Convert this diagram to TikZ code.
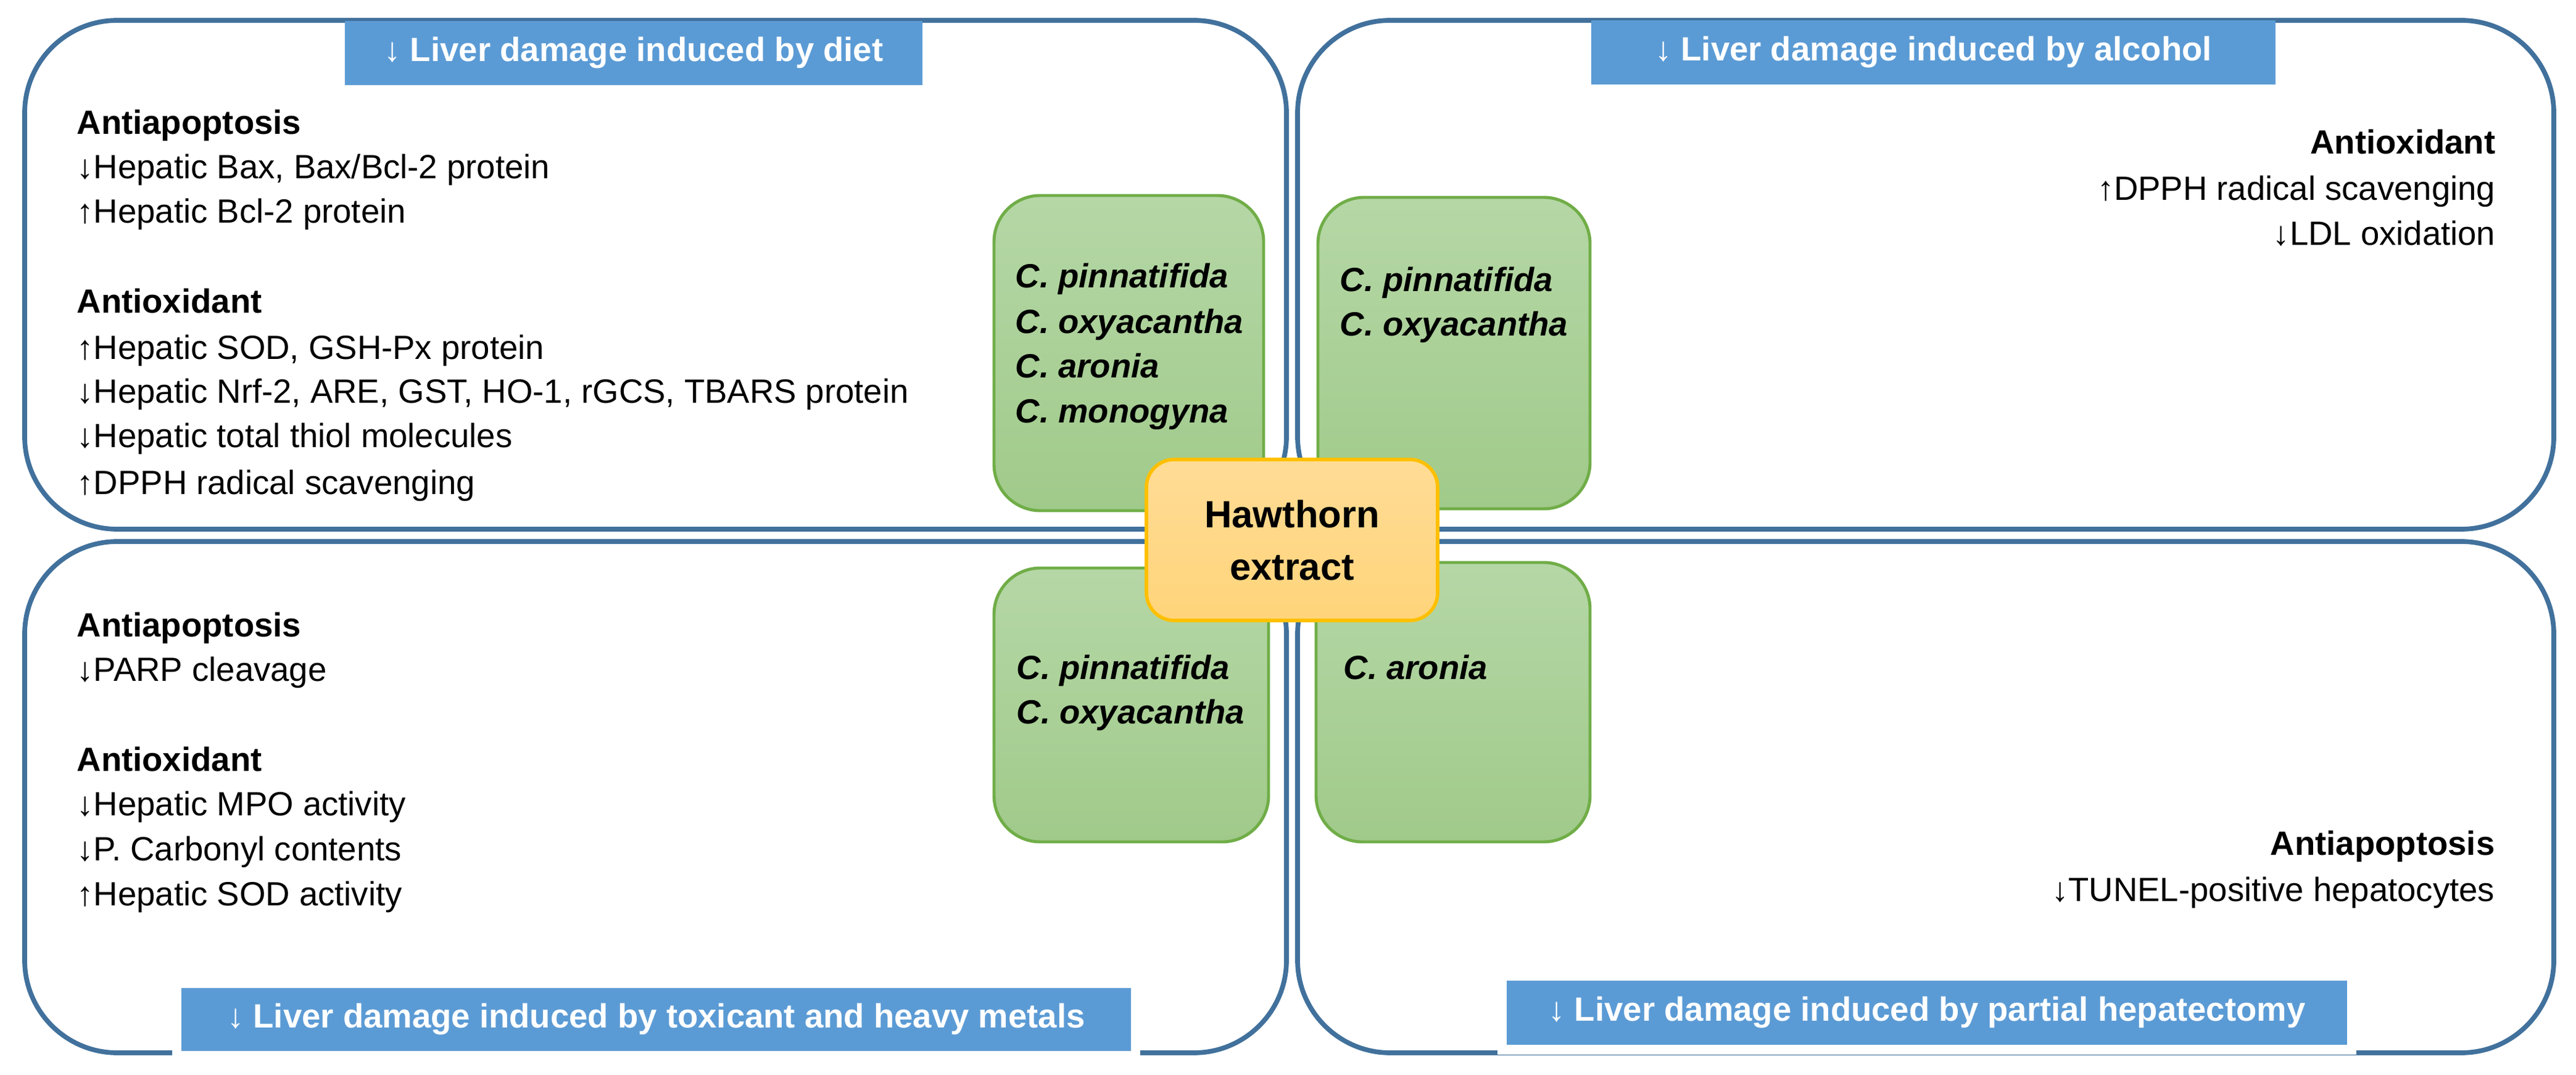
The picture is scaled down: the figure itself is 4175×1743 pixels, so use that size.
\documentclass[tikz,border=0pt]{standalone}
\usepackage{fontspec}
\setmainfont{Liberation Sans}
\definecolor{frame}{HTML}{41719C}
\definecolor{banner}{HTML}{5B9BD5}
\definecolor{gtop}{HTML}{B5D7A6}
\definecolor{gbot}{HTML}{A0CA8A}
\definecolor{gline}{HTML}{70AD47}
\definecolor{otop}{HTML}{FFDC96}
\definecolor{obot}{HTML}{FFD47A}
\definecolor{oline}{HTML}{FFC000}
\begin{document}
\begin{tikzpicture}[x=0.01cm,y=-0.01cm,
  quad/.style={draw=frame,line width=2.2pt,rounded corners=1.5cm},
  bann/.style={fill=banner,draw=none},
  banntxt/.style={text=white,font=\fontsize{15.5}{18}\selectfont\bfseries},
  green/.style={draw=gline,line width=1.4pt,top color=gtop,bottom color=gbot,rounded corners=0.75cm},
  spec/.style={anchor=base west,inner sep=0,font=\fontsize{15.5}{18}\selectfont\bfseries\itshape},
  body/.style={anchor=base west,inner sep=0,font=\fontsize{15.5}{18}\selectfont},
  head/.style={anchor=base west,inner sep=0,font=\fontsize{15.5}{18}\selectfont\bfseries},
  bodyr/.style={anchor=base east,inner sep=0,font=\fontsize{15.5}{18}\selectfont},
  headr/.style={anchor=base east,inner sep=0,font=\fontsize{15.5}{18}\selectfont\bfseries}]
\useasboundingbox[fill=white] (0,0) rectangle (4175,1743);
% quadrants
\draw[quad] (40,33) rectangle (2085,858);
\draw[quad] (2103,33) rectangle (4139,858);
\draw[quad] (40,878) rectangle (2085,1707);
\draw[quad] (2103,878) rectangle (4139,1707);
% banners
\fill[white] (279,1590) rectangle (1848,1720);
\fill[white] (2427,1578) rectangle (3819,1710);
\fill[bann] (559,34) rectangle (1495,138) node[banntxt,midway] (b1) {↓ Liver damage induced by diet};
\fill[bann] (2579,33) rectangle (3688,137) node[banntxt,midway] (b2) {↓ Liver damage induced by alcohol};
\fill[bann] (294,1602) rectangle (1833,1704) node[banntxt,midway] (b3) {↓ Liver damage induced by toxicant and heavy metals};
\fill[bann] (2442,1590) rectangle (3804,1694) node[banntxt,midway] (b4) {↓ Liver damage induced by partial hepatectomy};
% green boxes
\path[green] (1611,317) rectangle (2048,828);
\path[green] (2136,320) rectangle (2577,825);
\path[green] (1611,921) rectangle (2056,1365);
\path[green] (2133,912) rectangle (2577,1365);
\node[spec] (s1) at (1645,467) {C. pinnatifida};
\node[spec] (s2) at (1645,541) {C. oxyacantha};
\node[spec] (s3) at (1645,613) {C. aronia};
\node[spec] (s4) at (1645,686) {C. monogyna};
\node[spec] (s5) at (2171,473) {C. pinnatifida};
\node[spec] (s6) at (2171,545) {C. oxyacantha};
\node[spec] (s7) at (1647,1101) {C. pinnatifida};
\node[spec] (s8) at (1647,1173) {C. oxyacantha};
\node[spec] (s9) at (2177,1101) {C. aronia};
% center
\path[draw=oline,line width=1.6pt,top color=otop,bottom color=obot,rounded corners=0.45cm] (1858,745) rectangle (2330,1006);
\node[inner sep=0,anchor=base,font=\fontsize{17.5}{20}\selectfont\bfseries] (h1) at (2094,856) {Hawthorn};
\node[inner sep=0,anchor=base,font=\fontsize{17.5}{20}\selectfont\bfseries] (h2) at (2094,940) {extract};
% TL text
\node[head] (t1) at (124,218) {Antiapoptosis};
\node[body] (t2) at (124,290) {↓Hepatic Bax, Bax/Bcl-2 protein};
\node[body] (t3) at (124,362) {↑Hepatic Bcl-2 protein};
\node[head] (t4) at (124,508) {Antioxidant};
\node[body] (t5) at (124,583) {↑Hepatic SOD, GSH-Px protein};
\node[body] (t6) at (124,654) {↓Hepatic Nrf-2, ARE, GST, HO-1, rGCS, TBARS protein};
\node[body] (t7) at (124,726) {↓Hepatic total thiol molecules};
\node[body] (t8) at (124,801) {↑DPPH radical scavenging};
% TR text
\node[headr] (r1) at (4045,250) {Antioxidant};
\node[bodyr] (r2) at (4045,325) {↑DPPH radical scavenging};
\node[bodyr] (r3) at (4045,398) {↓LDL oxidation};
% BL text
\node[head] (l1) at (124,1032) {Antiapoptosis};
\node[body] (l2) at (124,1104) {↓PARP cleavage};
\node[head] (l3) at (124,1250) {Antioxidant};
\node[body] (l4) at (124,1322) {↓Hepatic MPO activity};
\node[body] (l5) at (124,1395) {↓P. Carbonyl contents};
\node[body] (l6) at (124,1468) {↑Hepatic SOD activity};
% BR text
\node[headr] (p1) at (4044,1386) {Antiapoptosis};
\node[bodyr] (p2) at (4044,1461) {↓TUNEL-positive hepatocytes};
\end{tikzpicture}
\end{document}
